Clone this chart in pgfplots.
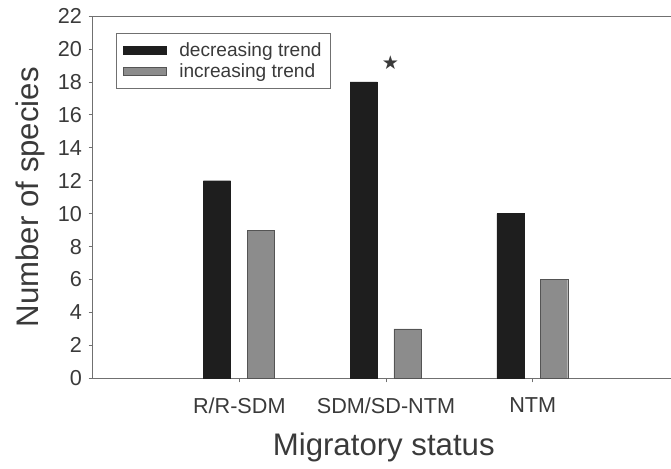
\documentclass[border=0pt]{standalone}
\usepackage{pgfplots}
\pgfplotsset{compat=1.18}
\usepackage{fontspec}
\setmainfont{Liberation Sans}
\newfontfamily\symfont{DejaVu Sans}
\definecolor{txt}{HTML}{3A3A3A}
\definecolor{spine}{HTML}{707070}
\definecolor{decr}{HTML}{1E1E1E}
\definecolor{incr}{HTML}{8C8C8C}
\begin{document}
\begin{tikzpicture}
\begin{axis}[
    scale only axis,
    width=579pt, height=360pt,
    xmin=0, xmax=3.97,
    ymin=0, ymax=22,
    axis x line=box,
    axis y line=left,
    xtick pos=bottom,
    axis line style={spine, line width=1pt, -},
    ytick={0,2,...,22},
    xtick={1,2,3},
    xticklabels={R/R-SDM, SDM/SD-NTM, NTM},
    tick align=outside,
    major tick length=4pt,
    tick style={spine, line width=0.8pt},
    /pgf/number format/assume math mode=true,
    ticklabel style={font=\fontsize{21.5}{24}\selectfont, text=txt},
    yticklabel style={xshift=-3pt},
    xticklabel style={yshift=-12pt},
    xlabel={Migratory status},
    ylabel={Number of species},
    xlabel style={font=\fontsize{31}{34}\selectfont, text=txt, yshift=-12pt},
    ylabel style={font=\fontsize{31}{34}\selectfont, text=txt, yshift=6pt},
    ybar,
    bar width=0.185,
    legend style={anchor=north west, at={(rel axis cs:0,1)},
        xshift=23pt, yshift=-17pt,
        draw=spine, line width=0.8pt, font=\fontsize{19}{22}\selectfont,
        text=txt, inner xsep=7pt, inner ysep=7pt, row sep=2pt},
    legend cell align=left,
    legend image code/.code={\draw[#1] (0pt,-4pt) rectangle (43pt,4pt); \path (53pt,0pt);},
]
\addplot[fill=decr, draw=decr, bar shift=-0.152] coordinates {(1,12) (2,18) (3,10)};
\addplot[fill=incr, draw=incr!60!black, bar shift=0.146] coordinates {(1,9) (2,3) (3,6)};
\legend{decreasing trend, increasing trend}
\node[text=txt, font=\symfont\fontsize{19}{19}\selectfont] at (axis cs:2.03,19.2) {★};
\end{axis}
\pgfresetboundingbox
\path ([xshift=-92pt,yshift=-90pt]current axis.south west) rectangle ([yshift=16pt,xshift=-4pt]current axis.north east);
\end{tikzpicture}
\end{document}
